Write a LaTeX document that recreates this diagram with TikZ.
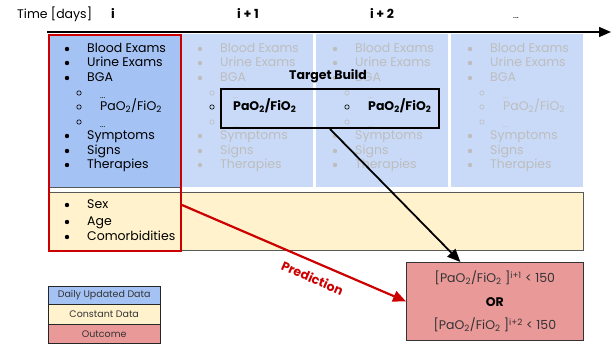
\documentclass[tikz,border=0pt]{standalone}
\usepackage{fontspec}
\setmainfont{Poppins}
\usetikzlibrary{arrows.meta}

\definecolor{dailyblue}{HTML}{A4C2F4}
\definecolor{otherblue}{HTML}{C9DAF8}
\definecolor{constyellow}{HTML}{FFF2CC}
\definecolor{outcomered}{HTML}{EA9999}
\definecolor{fadegray}{HTML}{BDBDBD}
\definecolor{predred}{HTML}{CC0000}
\definecolor{edgegray}{HTML}{595959}
\newcommand{\pafi}{PaO\textsubscript{2}/FiO\textsubscript{2}}

\begin{document}
\begin{tikzpicture}[x=1pt, y=-1pt,
    every node/.style={font=\fontsize{12.5}{14}\selectfont},
    item/.style={anchor=west, inner sep=0pt, text height=0.7em, text depth=0pt},
    daylabel/.style={inner sep=0pt, text height=0.7em, text depth=0pt, font=\fontsize{12.5}{14}\selectfont\bfseries},
    daycol/.style={anchor=north west, minimum width=132pt, minimum height=153pt, inner sep=0pt},
    legendbox/.style={anchor=north west, draw=black!85, minimum width=112pt, inner sep=0pt, text=black!80, font=\fontsize{9.5}{11}\selectfont}]
  \useasboundingbox (0,0) rectangle (616,344);

  % time axis
  \node[item] (time) at (17,15) {Time [days]};
  \node[daylabel] (day0) at (113,15) {i};
  \node[daylabel] (day1) at (248,15) {i + 1};
  \node[daylabel] (day2) at (382,15) {i + 2};
  \node[daylabel, font=\fontsize{9}{10}\selectfont] (day3) at (516,15) {...};
  \coordinate (axstart) at (47,32);
  \coordinate (axend) at (611,32);
  \draw[line width=1.5pt, -{Triangle[length=12pt, width=10pt]}] (axstart) -- (axend);

  % daily data
  \node[daycol, fill=dailyblue, draw=edgegray, line width=0.6pt] (col0) at (48,34) {};
  \node[daycol, fill=otherblue] (col1) at (181,34) {};
  \node[daycol, fill=otherblue] (col2) at (316,34) {};
  \node[daycol, fill=otherblue] (col3) at (451,34) {};

  % constant data
  \node[anchor=north west, fill=constyellow, draw=edgegray, line width=0.6pt, minimum width=535pt, minimum height=58pt, inner sep=0pt] (const) at (48,192) {};

  \foreach \cx/\tcol in {48/black, 181/fadegray, 316/fadegray, 451/fadegray} {
    \foreach \yy/\txt in {49/Blood Exams, 63/Urine Exams, 78/BGA, 136/Symptoms, 151/Signs, 165/Therapies} {
      \fill[\tcol] (\cx+19,\yy) circle (2.2);
      \node[item, text=\tcol] (it-\cx-\yy) at (\cx+39,\yy) {\txt};
    }
    \foreach \yy in {93,122} {
      \draw[\tcol, line width=0.6pt] (\cx+31,\yy) circle (2.2);
      \node[item, text=\tcol, font=\fontsize{8}{9}\selectfont] (sub-\cx-\yy) at (\cx+52,\yy+2) {...};
    }
  }
  % PaO2/FiO2 rows
  \draw[line width=0.6pt] (79,107) circle (2.2);
  \node[item] (pf0) at (100,107) {\pafi};
  \draw[line width=0.6pt] (212,107) circle (2.2);
  \node[item, font=\fontsize{12.5}{14}\selectfont\bfseries] (pf1) at (233,107) {\pafi};
  \draw[line width=0.6pt] (347,107) circle (2.2);
  \node[item, font=\fontsize{12.5}{14}\selectfont\bfseries] (pf2) at (368,107) {\pafi};
  \draw[fadegray, line width=0.6pt] (482,107) circle (2.2);
  \node[item, text=fadegray] (pf3) at (503,107) {\pafi};

  \foreach \yy/\txt in {205/Sex, 222/Age, 237/Comorbidities} {
    \fill (67,\yy) circle (2.2);
    \node[item] (cst-\yy) at (87,\yy) {\txt};
  }

  % selection and target
  \node[anchor=north west, draw=predred, line width=2pt, minimum width=132pt, minimum height=216pt, inner sep=0pt] (datasel) at (48,34) {};
  \node[anchor=north west, draw=black, line width=2pt, minimum width=218pt, minimum height=39pt, inner sep=0pt] (target) at (220,88) {};
  \node[daylabel] (targetlbl) at (328,76) {Target Build};

  % outcome
  \node[anchor=north west, fill=outcomered, draw=black!80, line width=0.8pt, minimum width=177pt, minimum height=78pt, inner sep=0pt, align=center, text=black!80, font=\fontsize{12.5}{23.5}\selectfont] (outcome) at (406,262)
    {{}[\pafi\ ]\textsuperscript{i+1} < 150\\ \textcolor{black}{\bfseries OR}\\ {}[\pafi\ ]\textsuperscript{i+2} < 150};

  \draw[line width=1.8pt, -{Triangle[length=13pt, width=11pt]}] (target.south) -- ([xshift=-34.5pt]outcome.north);
  \draw[predred, line width=2.2pt, -{Triangle[length=13pt, width=11pt]}] ([yshift=-62pt]datasel.east) -- (outcome.west)
    node[pos=0.61, sloped, below=6pt, font=\fontsize{12.5}{14}\selectfont\bfseries] (predlbl) {Prediction};

  % legend
  \node[legendbox, fill=dailyblue, minimum height=18pt] (leg0) at (48,286) {Daily Updated Data};
  \node[legendbox, fill=constyellow, minimum height=20pt] (leg1) at (48,304) {Constant Data};
  \node[legendbox, fill=outcomered, minimum height=19pt] (leg2) at (48,324) {Outcome};
\end{tikzpicture}
\end{document}
